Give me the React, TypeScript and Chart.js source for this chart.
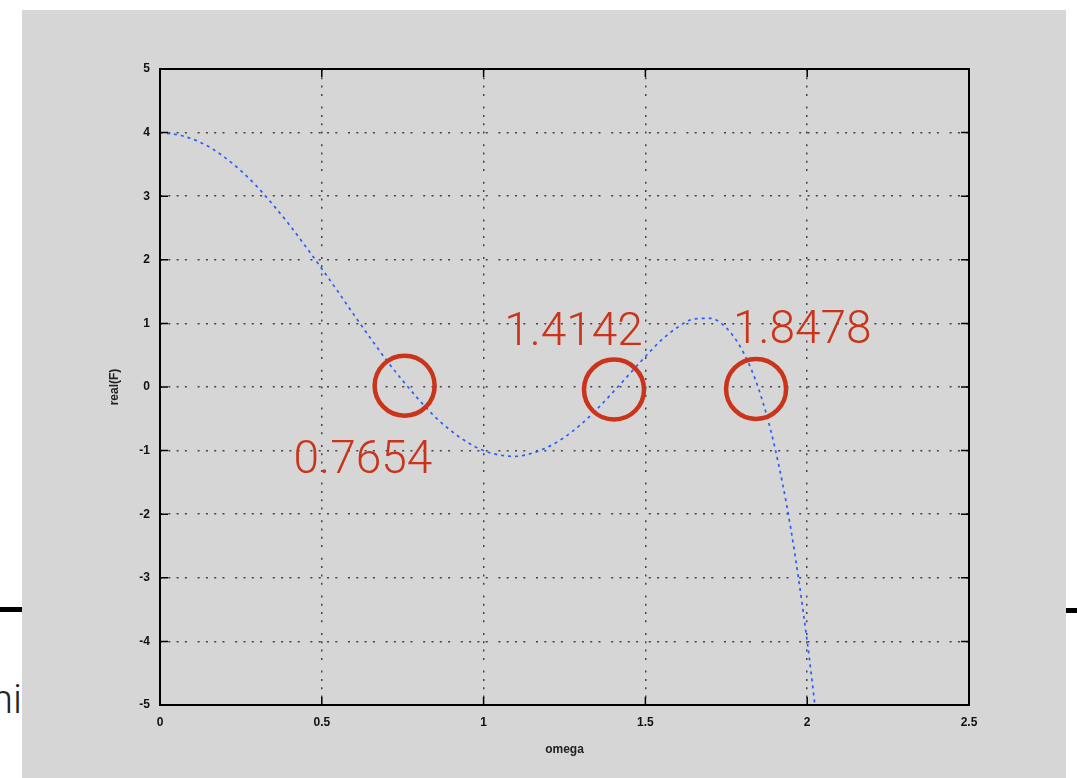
import React, { useEffect, useRef } from "react";
import { Chart, registerables } from "chart.js";

Chart.register(...registerables);

// ---- data ----
const omega = [
  0, 0.05, 0.1, 0.15, 0.2, 0.25, 0.3, 0.35, 0.4, 0.45, 0.5, 0.55, 0.6, 0.65, 0.7,
  0.75, 0.8, 0.85, 0.9, 0.95, 1.0, 1.05, 1.1, 1.15, 1.2, 1.25, 1.3, 1.35, 1.4,
  1.45, 1.5, 1.55, 1.6, 1.65, 1.7, 1.75, 1.8, 1.85, 1.9, 1.95, 2.0, 2.025,
];
const response = [
  4.0, 3.97, 3.9, 3.78, 3.61, 3.4, 3.15, 2.86, 2.55, 2.21, 1.86, 1.5, 1.13, 0.77,
  0.42, 0.1, -0.2, -0.47, -0.69, -0.87, -1.0, -1.07, -1.09, -1.04, -0.94, -0.79,
  -0.59, -0.35, -0.08, 0.2, 0.48, 0.74, 0.94, 1.07, 1.08, 0.93, 0.57, -0.03,
  -0.95, -2.25, -4.0, -5.05,
];

const xTickLabels = ["0", "0.5", "1", "1.5", "2", "2.5"];
const rootLabels = ["0.7654", "1.4142", "1.8478"];
const circleX = [0.756, 1.403, 1.842];
const circleY = [0.02, -0.04, -0.03];
const labelX = [0.627, 1.278, 1.985];
const labelY = [-1.354, 0.661, 0.693];

const xAxisTitle = "omega";
const yAxisTitle = "real(F)";

const RED = "#c9341a";
const GRID_DASH = [2, 6.3, 2, 6.3, 2, 6.3, 2, 10.7];

const decorPlugin = {
  id: "decor",
  afterDatasetsDraw(chart: any) {
    const { ctx, chartArea: a, scales } = chart;
    const x = scales.x;
    const y = scales.y;
    ctx.save();
    // frame
    ctx.strokeStyle = "#000";
    ctx.lineWidth = 2;
    ctx.setLineDash([]);
    ctx.strokeRect(a.left, a.top, a.right - a.left, a.bottom - a.top);
    // inward ticks
    const tl = 8;
    ctx.lineWidth = 1.5;
    ctx.beginPath();
    x.ticks.forEach((t: any) => {
      const px = x.getPixelForValue(t.value);
      ctx.moveTo(px, a.bottom);
      ctx.lineTo(px, a.bottom - tl);
      ctx.moveTo(px, a.top);
      ctx.lineTo(px, a.top + tl);
    });
    y.ticks.forEach((t: any) => {
      const py = y.getPixelForValue(t.value);
      ctx.moveTo(a.left, py);
      ctx.lineTo(a.left + tl, py);
      ctx.moveTo(a.right, py);
      ctx.lineTo(a.right - tl, py);
    });
    ctx.stroke();
    // circles
    ctx.strokeStyle = RED;
    ctx.lineWidth = 4.5;
    for (let i = 0; i < circleX.length; i++) {
      ctx.beginPath();
      ctx.arc(x.getPixelForValue(circleX[i]), y.getPixelForValue(circleY[i]), 30, 0, Math.PI * 2);
      ctx.stroke();
    }
    // labels
    ctx.fillStyle = RED;
    ctx.font = '300 46px Roboto, "Liberation Sans", sans-serif';
    ctx.textAlign = "center";
    ctx.textBaseline = "alphabetic";
    for (let i = 0; i < rootLabels.length; i++) {
      ctx.fillText(rootLabels[i], x.getPixelForValue(labelX[i]), y.getPixelForValue(labelY[i]));
    }
    ctx.restore();
  },
};

export default function App() {
  const canvasRef = useRef<HTMLCanvasElement | null>(null);

  useEffect(() => {
    const canvas = canvasRef.current;
    if (!canvas) return;
    const points = omega.map((w, i) => ({ x: w, y: response[i] }));
    const tickFont = { family: '"Liberation Sans", Arial, sans-serif', size: 12, weight: "bold" as const };
    const chart = new Chart(canvas, {
      type: "line",
      data: {
        datasets: [
          {
            label: yAxisTitle,
            data: points,
            borderColor: "#2a5cff",
            borderWidth: 1.7,
            borderDash: [3, 4],
            pointRadius: 0,
            cubicInterpolationMode: "monotone",
            fill: false,
          },
        ],
      },
      options: {
        animation: false,
        responsive: false,
        maintainAspectRatio: false,
        layout: { padding: { top: 59, right: 97, left: 0, bottom: 0 } },
        plugins: { legend: { display: false }, tooltip: { enabled: false } },
        scales: {
          x: {
            type: "linear",
            min: 0,
            max: 2.5,
            ticks: {
              stepSize: 0.5,
              color: "#111",
              font: tickFont,
              padding: 10,
              maxRotation: 0,
              callback: (_v: any, i: number) => xTickLabels[i],
            },
            grid: { color: "#444", lineWidth: 1.5, drawTicks: false },
            border: { display: false, dash: GRID_DASH },
            title: {
              display: true,
              text: xAxisTitle,
              color: "#222",
              font: { family: '"Liberation Sans", Arial, sans-serif', size: 12, weight: "bold" },
              padding: { top: 0, bottom: 21 },
            },
            afterFit(scale: any) {
              scale.height = 73;
            },
          },
          y: {
            type: "linear",
            min: -5,
            max: 5,
            ticks: { stepSize: 1, color: "#111", font: tickFont, padding: 10 },
            grid: { color: "#444", lineWidth: 1.5, drawTicks: false },
            border: { display: false, dash: GRID_DASH },
            title: {
              display: true,
              text: yAxisTitle,
              color: "#222",
              font: { family: '"Liberation Sans", Arial, sans-serif', size: 12, weight: "bold" },
              padding: { top: 85, bottom: 0 },
            },
            afterFit(scale: any) {
              scale.width = 138;
            },
          },
        },
      },
      plugins: [decorPlugin],
    });
    return () => chart.destroy();
  }, []);

  return (
    <div
      style={{
        position: "fixed",
        left: 0,
        top: 0,
        width: 1077,
        height: 778,
        background: "#fff",
        overflow: "hidden",
      }}
    >
      <div style={{ position: "absolute", left: 0, top: 607, width: 30, height: 5, background: "#000" }} />
      <div style={{ position: "absolute", left: 1060, top: 608, width: 17, height: 5, background: "#000" }} />
      <div
        style={{
          position: "absolute",
          right: 1055,
          top: 672,
          fontFamily: 'Roboto, "Liberation Sans", sans-serif',
          fontWeight: 300,
          fontSize: 40,
          lineHeight: "56px",
          color: "#222",
          whiteSpace: "nowrap",
        }}
      >
        hi
      </div>
      <div
        style={{
          position: "absolute",
          left: 22,
          top: 10,
          width: 1044,
          height: 768,
          background: "#d6d6d6",
        }}
      >
        <canvas ref={canvasRef} width={1044} height={768} style={{ display: "block" }} />
      </div>
    </div>
  );
}
